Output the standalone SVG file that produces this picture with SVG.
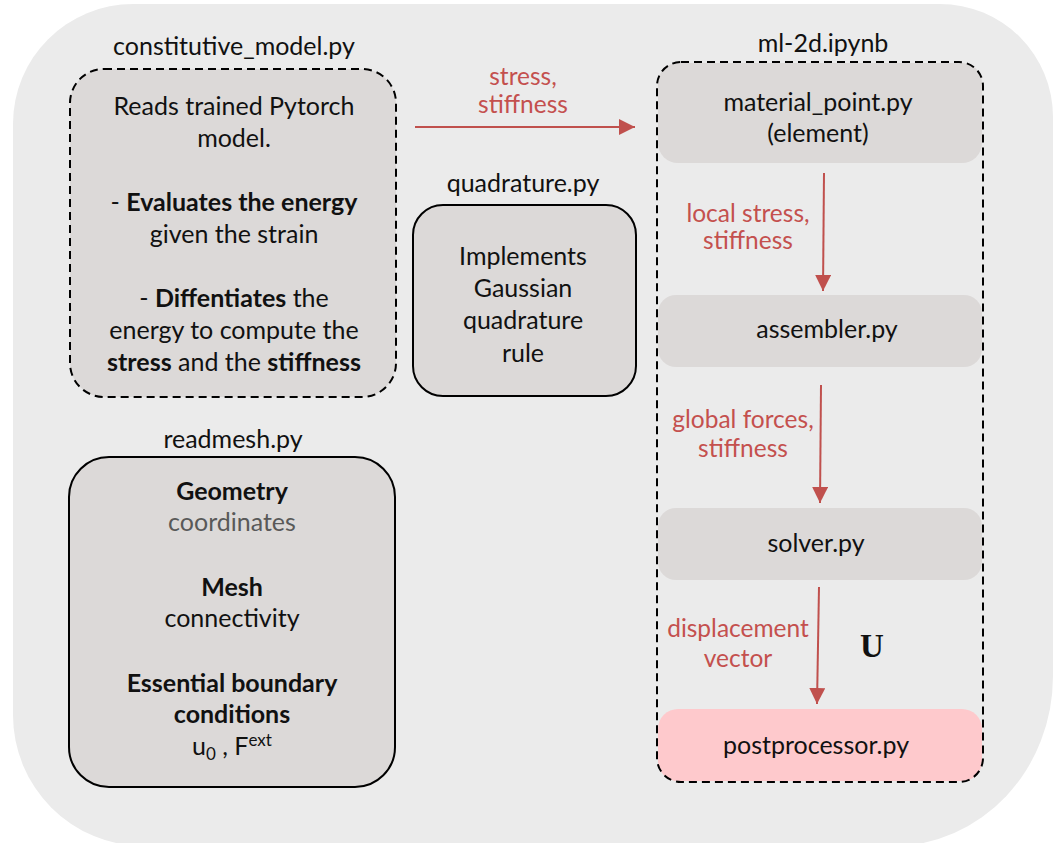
<svg xmlns="http://www.w3.org/2000/svg" width="1053" height="843" viewBox="0 0 1053 843">
<defs>
<style>
text{font-family:Lato,"Open Sans","Liberation Sans",sans-serif;font-size:25px;fill:#111;text-anchor:middle}
.b{font-weight:bold}
.r{fill:#c4504e;font-size:24.5px}
.g{fill:#595959}
.box{fill:#dcd9d8;stroke:#000;stroke-width:2}
.dash{fill:none;stroke:#000;stroke-width:2;stroke-dasharray:8 5}
.inner{fill:#dcd9d8}
.con{stroke:#c0504d;stroke-width:2;fill:none}
</style>
<marker id="ah" markerWidth="16" markerHeight="16" viewBox="0 0 16 16" refX="16" refY="8" orient="auto" markerUnits="userSpaceOnUse">
<path d="M0,0 L16,8 L0,16 Z" fill="#c0504d"/>
</marker>
</defs>
<path id="background" d="M13,124 A120,120 0 0 1 133,4 L940,4 A113,113 0 0 1 1053,117 L1053,676 A160,170 0 0 1 893,846 L144,846 A131,131 0 0 1 13,715 Z" fill="#ebebeb"/>

<g id="constitutive_model">
<text x="234" y="55">constitutive_model.py</text>
<rect x="70" y="69" width="326" height="328" rx="34" class="dash" style="fill:#dcd9d8"/>
<text x="234" y="115">Reads trained Pytorch</text>
<text x="234" y="147">model.</text>
<text x="234" y="211">- <tspan class="b">Evaluates the energy</tspan></text>
<text x="234" y="243">given the strain</text>
<text x="234" y="307">- <tspan class="b">Diffentiates</tspan> the</text>
<text x="234" y="339">energy to compute the</text>
<text x="234" y="371"><tspan class="b">stress</tspan> and the <tspan class="b">stiffness</tspan></text>
</g>

<g id="quadrature">
<text x="523" y="192">quadrature.py</text>
<rect x="413" y="205" width="223" height="191" rx="30" class="box"/>
<text x="523" y="265">Implements</text>
<text x="523" y="297">Gaussian</text>
<text x="523" y="329">quadrature</text>
<text x="523" y="362">rule</text>
</g>

<g id="readmesh">
<text x="233" y="448">readmesh.py</text>
<rect x="69" y="457" width="326" height="330" rx="40" class="box"/>
<text x="232" y="500" class="b">Geometry</text>
<text x="232" y="531" class="g">coordinates</text>
<text x="232" y="596" class="b">Mesh</text>
<text x="232" y="627">connectivity</text>
<text x="232" y="692" class="b">Essential boundary</text>
<text x="232" y="723" class="b">conditions</text>
<text x="232" y="755">u<tspan font-size="17" dy="5">0</tspan><tspan dy="-5"> , F</tspan><tspan font-size="17" dy="-9">ext</tspan></text>
</g>

<g id="ml-2d">
<text x="823" y="52">ml-2d.ipynb</text>
<g id="material_point">
<rect x="658" y="63" width="324" height="100" rx="20" class="inner"/>
<text x="818" y="111">material_point.py</text>
<text x="818" y="142">(element)</text>
</g>
<g id="assembler">
<rect x="658" y="295" width="324" height="72" rx="18" class="inner"/>
<text x="827" y="338">assembler.py</text>
</g>
<g id="solver">
<rect x="658" y="508" width="324" height="72" rx="18" class="inner"/>
<text x="816" y="552">solver.py</text>
</g>
<g id="postprocessor">
<rect x="658" y="709" width="324" height="72" rx="20" fill="#fec9cc"/>
<text x="816" y="754">postprocessor.py</text>
</g>
<rect x="657" y="62" width="326" height="720" rx="24" class="dash"/>
</g>

<g id="connectors">
<line x1="415" y1="127" x2="635" y2="127" class="con" marker-end="url(#ah)"/>
<line x1="824" y1="173" x2="823" y2="291" class="con" marker-end="url(#ah)"/>
<line x1="821" y1="385" x2="820" y2="503" class="con" marker-end="url(#ah)"/>
<line x1="819" y1="587" x2="817" y2="704" class="con" marker-end="url(#ah)"/>
<text x="523" y="85" class="r">stress,</text>
<text x="523" y="113" class="r">stiffness</text>
<text x="748" y="222" class="r">local stress,</text>
<text x="748" y="249" class="r">stiffness</text>
<text x="743" y="428" class="r">global forces,</text>
<text x="743" y="457" class="r">stiffness</text>
<text x="738" y="637" class="r">displacement</text>
<text x="738" y="667" class="r">vector</text>
<text x="872" y="657" style="font-family:'Liberation Serif','DejaVu Serif',serif;font-weight:bold;font-size:33px">U</text>
</g>
</svg>
